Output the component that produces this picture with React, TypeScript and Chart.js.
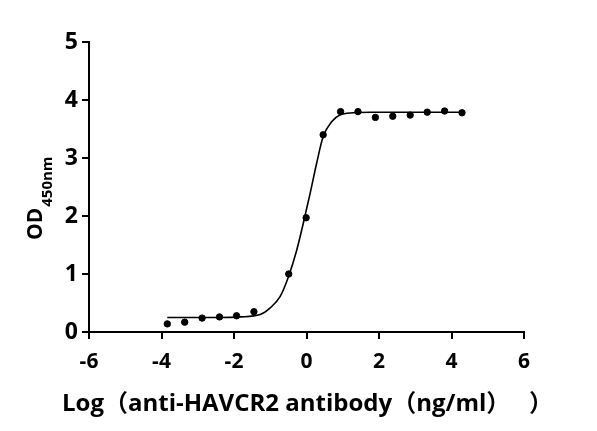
import { useEffect, useRef } from "react"
import { Chart, registerables } from "chart.js"

Chart.register(...registerables)

// measured points (log concentration vs OD450)
const pointX = [-3.84, -3.36, -2.88, -2.4, -1.93, -1.45, -0.49, -0.01, 0.46, 0.94, 1.42, 1.9, 2.38, 2.86, 3.33, 3.81, 4.29]
const pointY = [0.14, 0.17, 0.24, 0.26, 0.28, 0.35, 1.0, 1.97, 3.4, 3.8, 3.8, 3.7, 3.72, 3.74, 3.79, 3.81, 3.78]

// fitted curve
const curveX = [-3.84, -3.0, -2.4, -1.83, -1.28, -1.01, -0.73, -0.5, -0.27, -0.09, 0.1, 0.28, 0.46, 0.7, 0.92, 1.29, 1.75, 2.5, 3.3, 4.29]
const curveY = [0.25, 0.25, 0.25, 0.26, 0.3, 0.41, 0.61, 0.95, 1.41, 1.87, 2.39, 2.91, 3.37, 3.63, 3.74, 3.78, 3.79, 3.79, 3.79, 3.79]

const xTitle = "Log（anti-HAVCR2 antibody（ng/ml）   ）"
const yTitleMain = "OD"
const yTitleSub = "450nm"

const FONT = '"Open Sans", "Noto Sans CJK SC", sans-serif'

// axis titles: the x title is wider than the plot, the y title has a subscript
const titlesPlugin = {
  id: "axisTitles",
  afterDraw(chart: Chart) {
    const ctx = chart.ctx
    const area = chart.chartArea
    ctx.save()
    ctx.fillStyle = "#000"
    ctx.textBaseline = "alphabetic"

    ctx.textAlign = "center"
    ctx.font = `bold 24px ${FONT}`
    ctx.fillText(xTitle, (area.left + area.right) / 2 + 1, 411)

    ctx.translate(41.7, 240)
    ctx.rotate(-Math.PI / 2)
    ctx.textAlign = "left"
    ctx.font = `bold 21px ${FONT}`
    ctx.fillText(yTitleMain, 0, 0)
    const w = ctx.measureText(yTitleMain).width
    ctx.font = `bold 15px ${FONT}`
    ctx.fillText(yTitleSub, w + 1, 10)
    ctx.restore()
  },
}

export default function App() {
  const chartRef = useRef<HTMLCanvasElement>(null)
  const chartInstance = useRef<Chart | null>(null)

  useEffect(() => {
    if (!chartRef.current) return
    if (chartInstance.current) chartInstance.current.destroy()

    const ctx = chartRef.current.getContext("2d")
    if (!ctx) return

    chartInstance.current = new Chart(ctx, {
      type: "scatter",
      data: {
        datasets: [
          {
            label: "data",
            data: pointX.map((x, i) => ({ x, y: pointY[i] })),
            backgroundColor: "#000",
            borderColor: "#000",
            pointRadius: 3.2,
            pointHoverRadius: 3.2,
            showLine: false,
          },
          {
            label: "fit",
            data: curveX.map((x, i) => ({ x, y: curveY[i] })),
            borderColor: "#000",
            borderWidth: 1.6,
            pointRadius: 0,
            showLine: true,
            cubicInterpolationMode: "monotone",
          },
        ],
      },
      options: {
        animation: false,
        responsive: true,
        maintainAspectRatio: false,
        layout: { padding: { left: 0, top: 42, right: 73, bottom: 0 } },
        plugins: {
          legend: { display: false },
          tooltip: { enabled: false },
        },
        scales: {
          x: {
            type: "linear",
            min: -6,
            max: 6,
            afterFit: (scale) => {
              scale.height = 99
            },
            ticks: {
              stepSize: 2,
              color: "#000",
              padding: 10,
              font: { family: FONT, size: 21, weight: "bold" },
            },
            grid: {
              display: true,
              drawOnChartArea: false,
              drawTicks: true,
              tickLength: 7,
              color: "#000",
              lineWidth: 2,
            },
            border: { color: "#000", width: 2 },
          },
          y: {
            type: "linear",
            min: 0,
            max: 5,
            afterFit: (scale) => {
              scale.width = 89
            },
            ticks: {
              stepSize: 1,
              color: "#000",
              padding: 4,
              font: { family: FONT, size: 23, weight: "bold" },
            },
            grid: {
              display: true,
              drawOnChartArea: false,
              drawTicks: true,
              tickLength: 7,
              color: "#000",
              lineWidth: 2,
            },
            border: { color: "#000", width: 2 },
          },
        },
      },
      plugins: [titlesPlugin],
    })

    return () => {
      if (chartInstance.current) {
        chartInstance.current.destroy()
        chartInstance.current = null
      }
    }
  }, [])

  return (
    <div style={{ position: "absolute", left: 0, top: 0, width: 597, height: 431, background: "#fff" }}>
      <canvas ref={chartRef} />
    </div>
  )
}
